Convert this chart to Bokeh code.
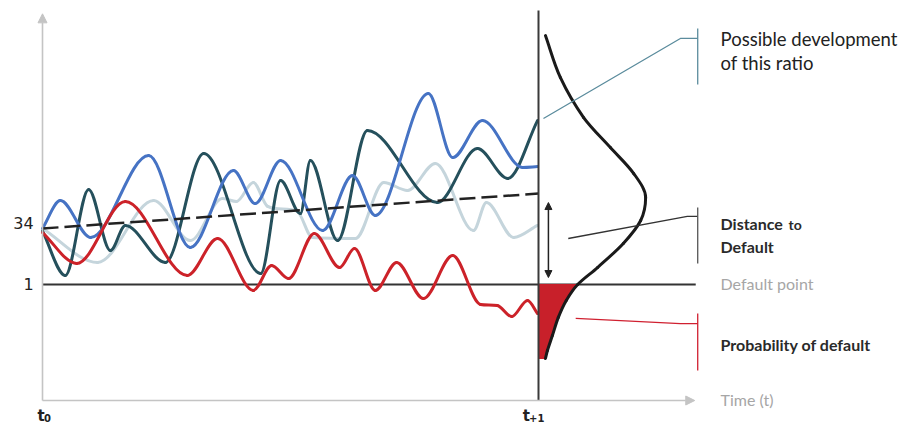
from bokeh.plotting import figure
from bokeh.models import Range1d, Arrow, NormalHead, ColumnDataSource
from bokeh.core.properties import value
from bokeh.embed import file_html
from bokeh.resources import INLINE

# ---------------- data (time: t0 = 0, t+1 = 100; ratio value) ----------------
T0, T1 = 0, 100
START_VALUE = 34
DEFAULT_POINT = 1
y_tick_values = [34, 1]
y_tick_labels = ["34", "1"]

blue_t = [0, 3.6, 9.7, 21.4, 29.8, 38.5, 42.9, 48.0, 56.5, 62.5, 67.1, 77.8, 82.7, 88.7, 96.8, 99.8]
blue_v = [34.0, 50.5, 28.7, 77.0, 22.8, 68.2, 48.7, 74.1, 32.8, 65.2, 41.7, 113.6, 75.8, 97.6, 70.0, 70.5]

dark_t = [0, 4.6, 9.3, 13.7, 16.7, 24.8, 32.5, 44.0, 48.0, 52.0, 54.0, 59.5, 65.5, 79.6, 87.7, 93.8, 99.8]
dark_v = [32.5, 6.3, 57.0, 21.0, 35.8, 14.0, 78.2, 7.5, 62.3, 42.8, 74.1, 26.9, 91.8, 49.3, 81.1, 63.5, 97.6]

light_t = [0, 11.1, 22.4, 29.8, 36.3, 39.1, 42.5, 45.4, 51.4, 54.4, 63.1, 68.8, 73.6, 79.2, 86.9, 89.5, 95.0, 99.8]
light_v = [34.0, 14.0, 50.5, 26.9, 51.7, 49.9, 61.1, 47.0, 44.0, 28.7, 28.1, 61.1, 56.4, 72.3, 32.8, 49.3, 28.7, 35.8]

red_t = [0, 6.9, 16.7, 29.2, 35.3, 42.5, 46.2, 49.6, 54.8, 59.9, 62.9, 67.1, 71.4, 76.8, 82.7, 88.3, 91.7, 94.6, 97.8, 99.8]
red_v = [31.6, 13.4, 49.9, 6.3, 28.1, -2.5, 12.2, 4.5, 31.1, 11.0, 22.2, -2.5, 14.0, -7.3, 18.1, -10.8, -11.4, -17.9, -8.4, -16.1]

trend_t = [0, 100]
trend_v = [34.0, 54.6]

# distribution of the ratio at t+1 (value, horizontal extent)
dist_v = [147.7, 123.0, 99.4, 81.7, 66.4, 52.3, 38.7, 25.2, 11.0, 1.0, -8.4, -18.4, -29.1, -37.9, -42.6]
dist_t = [101.4, 104.4, 109.1, 114.5, 119.2, 121.6, 120.6, 117.1, 111.9, 107.9, 105.6, 104.0, 102.8, 101.8, 101.4]


def smooth_segments(ts, vs):
    n = len(ts)
    d = [(vs[i + 1] - vs[i]) / (ts[i + 1] - ts[i]) for i in range(n - 1)]
    m = [0.0] * n
    m[0], m[-1] = d[0], d[-1]
    for i in range(1, n - 1):
        if d[i - 1] * d[i] <= 0:
            m[i] = 0.0
        else:
            s = (vs[i + 1] - vs[i - 1]) / (ts[i + 1] - ts[i - 1])
            lim = 3 * min(abs(d[i - 1]), abs(d[i]))
            m[i] = max(-lim, min(lim, s))
    seg = dict(t0=[], v0=[], t1=[], v1=[], ct0=[], cv0=[], ct1=[], cv1=[])
    for i in range(n - 1):
        h = ts[i + 1] - ts[i]
        seg["t0"].append(ts[i]); seg["v0"].append(vs[i])
        seg["t1"].append(ts[i + 1]); seg["v1"].append(vs[i + 1])
        seg["ct0"].append(ts[i] + h / 3); seg["cv0"].append(vs[i] + m[i] * h / 3)
        seg["ct1"].append(ts[i + 1] - h / 3); seg["cv1"].append(vs[i + 1] - m[i + 1] * h / 3)
    return seg


def draw_smooth(p, ts, vs, color, width, swap=False):
    s = smooth_segments(ts, vs)
    if not swap:
        data = dict(x0=s["t0"], y0=s["v0"], x1=s["t1"], y1=s["v1"],
                    cx0=s["ct0"], cy0=s["cv0"], cx1=s["ct1"], cy1=s["cv1"])
    else:
        data = dict(x0=s["v0"], y0=s["t0"], x1=s["v1"], y1=s["t1"],
                    cx0=s["cv0"], cy0=s["ct0"], cx1=s["cv1"], cy1=s["ct1"])
    p.bezier(x0="x0", y0="y0", x1="x1", y1="y1", cx0="cx0", cy0="cy0", cx1="cx1", cy1="cy1",
             source=ColumnDataSource(data), line_color=color, line_width=width, line_cap="round")


p = figure(width=902, height=426, x_range=Range1d(-8.468, 173.387), y_range=Range1d(-82.679, 168.357),
           x_axis_type=None, y_axis_type=None, output_backend="svg", toolbar_location=None,
           min_border=0)
p.grid.visible = False
p.outline_line_color = None
p.background_fill_color = "white"

AX = "#c4c4c4"
Y_BOTTOM = -67.36
# axes drawn as arrows
p.add_layout(Arrow(x_start=T0, y_start=Y_BOTTOM, x_end=T0, y_end=160.5, line_color=AX, line_width=1.6,
                   end=NormalHead(size=9, fill_color=AX, line_color=AX)))
p.add_layout(Arrow(x_start=T0, y_start=Y_BOTTOM, x_end=131.5, y_end=Y_BOTTOM, line_color=AX, line_width=1.6,
                   end=NormalHead(size=9, fill_color=AX, line_color=AX)))

# default point line
p.line([T0, 131.7], [DEFAULT_POINT, DEFAULT_POINT], line_color="#333333", line_width=2)

# paths
draw_smooth(p, light_t, light_v, "#c5d5dc", 3)
draw_smooth(p, dark_t, dark_v, "#25505c", 3)
draw_smooth(p, blue_t, blue_v, "#4673c4", 3)
draw_smooth(p, red_t, red_v, "#cc2229", 3)
p.line(trend_t, trend_v, line_color="#222222", line_width=2.5, line_dash="16 6")

# probability of default area
tail = [(t, v) for t, v in zip(dist_t, dist_v) if v <= DEFAULT_POINT]
fill_x = [T1] + [t for t, v in tail] + [T1]
fill_y = [DEFAULT_POINT] + [v for t, v in tail] + [tail[-1][1]]
p.patch(fill_x, fill_y, fill_color="#c8202a", line_color="#c8202a", line_width=1)

# vertical line at t+1
p.line([T1, T1], [Y_BOTTOM, 162.5], line_color="#3a3a3a", line_width=2)

# distribution curve
draw_smooth(p, dist_v, dist_t, "#1a1a1a", 3, swap=True)

# distance-to-default arrow
p.add_layout(Arrow(x_start=102.0, y_start=5.1, x_end=102.0, y_end=49.3, line_color="#222222", line_width=1.5,
                   start=NormalHead(size=7, fill_color="#222222", line_color="#222222"),
                   end=NormalHead(size=7, fill_color="#222222", line_color="#222222")))

# callout brackets
STEEL = "#5b8c9d"
p.line([101.0, 128.6, 132.1], [98.8, 146.0, 146.0], line_color=STEEL, line_width=1.3)
p.line([132.1, 132.1], [151.9, 118.9], line_color=STEEL, line_width=1.3)
p.line([106.0, 130.0, 132.1], [28.1, 41.1, 41.1], line_color="#333333", line_width=1.3)
p.line([132.1, 132.1], [46.4, 13.4], line_color="#555555", line_width=1.3)
p.line([107.5, 128.6, 132.1], [-19.0, -22.0, -22.0], line_color="#d02030", line_width=1.3)
p.line([132.1, 132.1], [-16.1, -49.7], line_color="#d02030", line_width=1.3)

# y labels
p.text(x=[-1.8] * len(y_tick_values), y=y_tick_values, text=y_tick_labels, text_align="right",
       text_baseline="middle", text_font=value("DejaVu Sans"), text_font_size="16px", text_color="#222222",
       y_offset=[-5, 0])

# time labels
p.text(x=[-1.0, 96.8], y=[-76.2, -76.2], text=["t", "t"], text_font=value("DejaVu Sans"),
       text_font_style="bold", text_font_size="15px", text_color="#222222", text_baseline="middle")
p.text(x=[0.3, 98.1], y=[-77.8, -77.8], text=["0", "+1"], text_font=value("DejaVu Sans"),
       text_font_style="bold", text_font_size="10px", text_color="#222222", text_baseline="middle")

# right labels
FONT = value("Lato")
p.text(x=[136.7, 136.7], y=[145.4, 131.8], text=["Possible development", "of this ratio"],
       text_font=FONT, text_font_size="18.5px", text_color="#222222", text_baseline="middle")
p.text(x=[136.7, 136.7], y=[37.2, 23.4], text=["Distance", "Default"],
       text_font=FONT, text_font_style="bold", text_font_size="16px", text_color="#2a2a2a",
       text_baseline="middle")
p.text(x=[150.4], y=[36.1], text=["to"],
       text_font=FONT, text_font_style="bold", text_font_size="14px", text_color="#2a2a2a",
       text_baseline="middle")
p.text(x=[136.7], y=[-34.1], text=["Probability of default"],
       text_font=FONT, text_font_style="bold", text_font_size="16px", text_color="#2a2a2a",
       text_baseline="middle")
p.text(x=[136.7, 136.7], y=[1.3, -66.5], text=["Default point", "Time (t)"],
       text_font=FONT, text_font_size="16px", text_color="#a6a6a6", text_baseline="middle")

open("out.html", "w").write(file_html(p, INLINE))
